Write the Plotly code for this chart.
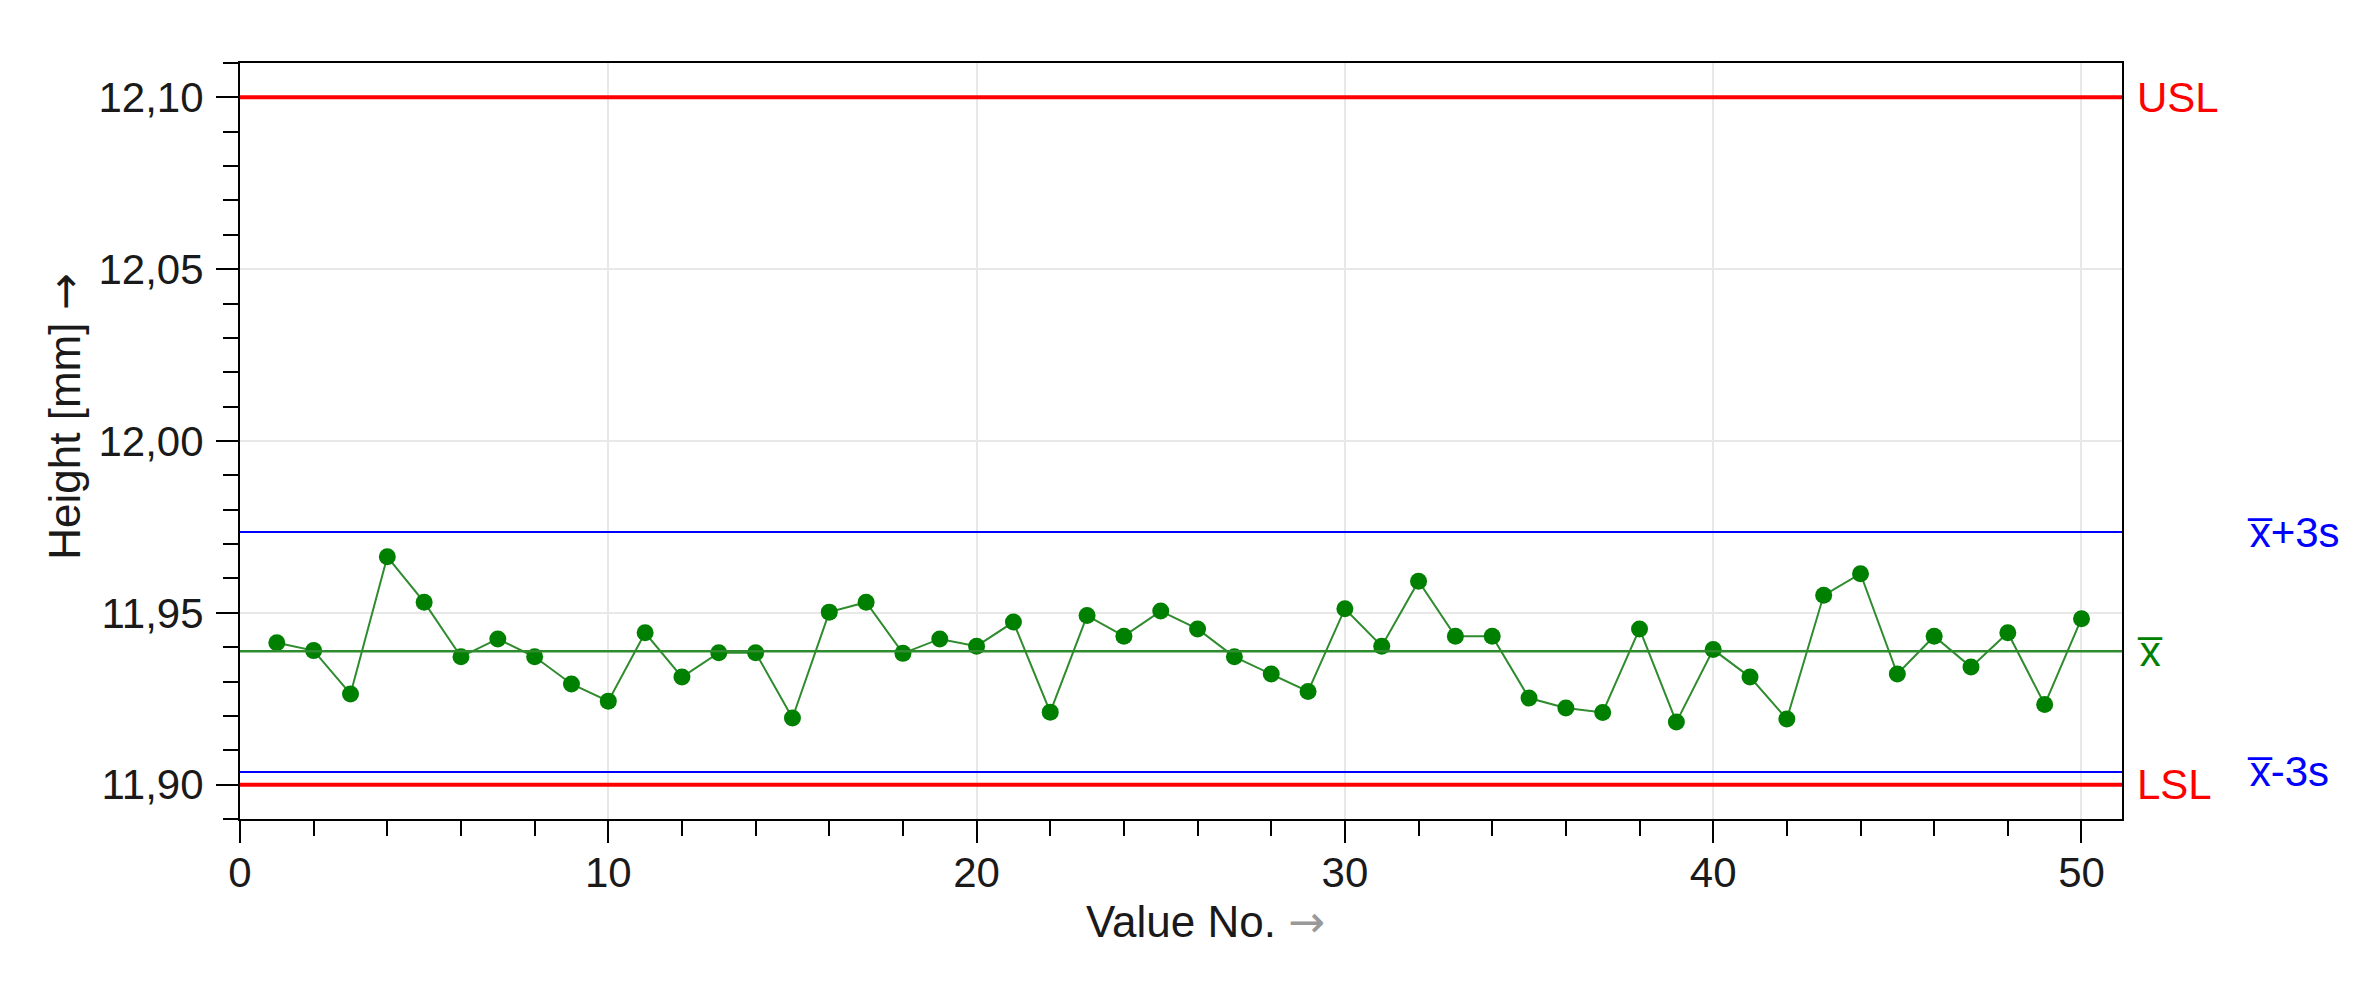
import plotly.graph_objects as go

# ---- data ----
value_no = list(range(1, 51))
heights = [11.9413, 11.9390, 11.9264, 11.9663, 11.9531, 11.9372, 11.9424, 11.9372, 11.9293, 11.9243,
           11.9442, 11.9313, 11.9384, 11.9384, 11.9194, 11.9502, 11.9531, 11.9382, 11.9424, 11.9403,
           11.9473, 11.9211, 11.9492, 11.9432, 11.9505, 11.9453, 11.9372, 11.9322, 11.9271, 11.9512,
           11.9403, 11.9592, 11.9432, 11.9432, 11.9252, 11.9223, 11.9210, 11.9453, 11.9182, 11.9393,
           11.9313, 11.9191, 11.9551, 11.9614, 11.9322, 11.9432, 11.9342, 11.9442, 11.9233, 11.9483]
USL = 12.10
LSL = 11.90
XBAR = 11.9388
UCL = 11.9735   # x̄+3s
LCL = 11.9037   # x̄-3s
x_tick_vals = [0, 10, 20, 30, 40, 50]
y_tick_vals = [11.90, 11.95, 12.00, 12.05, 12.10]
y_tick_text = ["11,90", "11,95", "12,00", "12,05", "12,10"]

FONT = "Liberation Sans, Arial, sans-serif"
GREEN = "#008000"
LINE_GREEN = "#2e8b2e"
RED = "#ff0000"
BLUE = "#0000ff"

fig = go.Figure()
fig.add_trace(go.Scatter(
    x=value_no, y=heights, mode="lines+markers",
    line=dict(color=LINE_GREEN, width=2),
    marker=dict(color=GREEN, size=17),
    showlegend=False, hoverinfo="x+y",
))

# reference lines
ref_lines = [(USL, RED, 4), (LSL, RED, 4), (UCL, BLUE, 2), (LCL, BLUE, 2), (XBAR, LINE_GREEN, 2.5)]
for yv, col, w in ref_lines:
    fig.add_shape(type="line", xref="x domain", x0=0, x1=1, yref="y", y0=yv, y1=yv,
                  line=dict(color=col, width=w), layer="above")

# right-hand labels
labels = [
    ("USL", USL, RED, 1.007),
    ("LSL", LSL, RED, 1.007),
    ("x\u0305", XBAR, GREEN, 1.007),
    ("x\u0305+3s", UCL, BLUE, 1.0654),
    ("x\u0305-3s", LCL, BLUE, 1.0654),
]
for txt, yv, col, xp in labels:
    fig.add_annotation(text=txt, xref="paper", x=xp, xanchor="left", yref="y", y=yv,
                       yanchor="middle", showarrow=False,
                       font=dict(family=FONT, size=42, color=col))

fig.update_layout(
    width=2356, height=982,
    margin=dict(l=240, r=234, t=63, b=163),
    plot_bgcolor="white", paper_bgcolor="white",
    font=dict(family=FONT, color="#1a1a1a", size=42),
    xaxis=dict(
        range=[0, 51.1], tickvals=x_tick_vals, ticks="outside", ticklen=22, tickwidth=2,
        tickcolor="black", showline=True, linecolor="black", linewidth=2, mirror=True,
        showgrid=True, gridcolor="#e8e8e8", gridwidth=1.5, zeroline=False,
        tickfont=dict(size=42, color="#1a1a1a"), ticklabelstandoff=-6,
        minor=dict(dtick=2, tick0=0, ticks="outside", ticklen=15, tickwidth=2, tickcolor="black", showgrid=False),
        title=dict(text="&nbsp;&nbsp;&nbsp;&nbsp;Value No. <span style='color:#999999;font-family:DejaVu Sans'>\u2192</span>",
                   font=dict(size=44, color="#1a1a1a"), standoff=10),
    ),
    yaxis=dict(
        range=[11.89, 12.11], tickvals=y_tick_vals, ticktext=y_tick_text, ticks="outside",
        ticklen=22, tickwidth=2, tickcolor="black", showline=True, linecolor="black",
        linewidth=2, mirror=True, showgrid=True, gridcolor="#e8e8e8", gridwidth=1.5,
        zeroline=False, tickfont=dict(size=42, color="#1a1a1a"), ticklabelstandoff=4,
        minor=dict(dtick=0.01, tick0=11.9, ticks="outside", ticklen=15, tickwidth=2, tickcolor="black", showgrid=False),
        title=dict(text="&nbsp;&nbsp;&nbsp;&nbsp;Height [mm] <span style='font-family:DejaVu Sans'>\u2192</span>",
                   font=dict(size=44, color="#1a1a1a"), standoff=4),
    ),
)

fig.write_html("out.html", config={"displayModeBar": False},
               post_script="document.body.style.margin='0px';")
